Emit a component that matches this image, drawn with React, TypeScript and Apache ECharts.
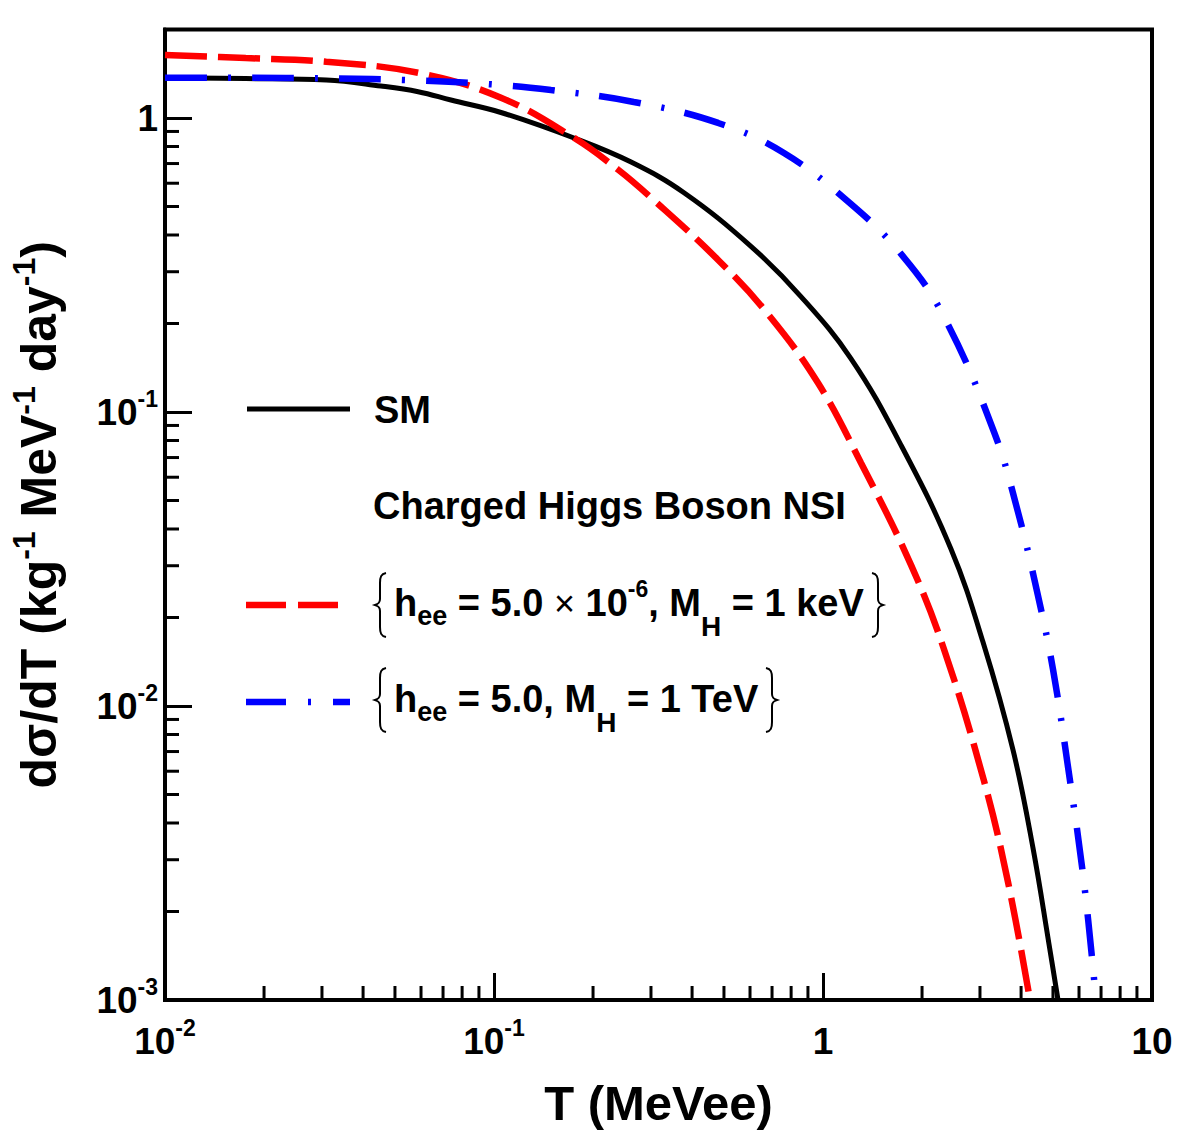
import React, { useEffect, useRef } from "react";
import * as echarts from "echarts";

const FONT = '"Liberation Sans", Arial, Helvetica, sans-serif';

// Recoil energy T (MeVee) and differential rate dσ/dT (kg^-1 MeV^-1 day^-1), Standard Model
const smT = [0.01, 0.0176, 0.0309, 0.0453, 0.0588, 0.074, 0.105, 0.175, 0.261, 0.378, 0.604, 0.857, 1.216, 1.726, 2.449, 3.064, 3.78, 4.348, 4.863, 5.18];
const smRate = [1.371, 1.362, 1.347, 1.285, 1.229, 1.151, 1.044, 0.855, 0.708, 0.557, 0.366, 0.247, 0.152, 0.0772, 0.0342, 0.0165, 0.00709, 0.00329, 0.00155, 0.001];

// Charged Higgs NSI: h_ee = 5.0e-6, M_H = 1 keV
const keVT = [0.01, 0.0176, 0.0309, 0.0588, 0.105, 0.175, 0.238, 0.3, 0.48, 0.681, 0.966, 1.305, 1.851, 2.332, 3.086, 3.65, 4.258];
const keVRate = [1.638, 1.6, 1.553, 1.425, 1.172, 0.856, 0.668, 0.536, 0.329, 0.215, 0.1255, 0.0671, 0.0302, 0.0156, 0.00556, 0.00252, 0.001];

// Charged Higgs NSI: h_ee = 5.0, M_H = 1 TeV
const teVT = [0.01, 0.0176, 0.0309, 0.0588, 0.105, 0.149, 0.266, 0.48, 0.761, 1.216, 1.726, 2.316, 3.31, 3.914, 4.503, 5.003, 5.556, 6.215, 6.758];
const teVRate = [1.371, 1.37, 1.365, 1.341, 1.295, 1.245, 1.134, 0.962, 0.76, 0.51, 0.345, 0.214, 0.0855, 0.0457, 0.0237, 0.0133, 0.0062, 0.0025, 0.001];

const xTickValues = [0.01, 0.1, 1, 10];
const xTickLabels = ["10^-2", "10^-1", "1", "10"];
const yTickValues = [0.001, 0.01, 0.1, 1];
const yTickLabels = ["10^-3", "10^-2", "10^-1", "1"];
const xMinorTicks = [0.02, 0.03, 0.04, 0.05, 0.06, 0.07, 0.08, 0.09, 0.2, 0.3, 0.4, 0.5, 0.6, 0.7, 0.8, 0.9, 2, 3, 4, 5, 6, 7, 8, 9];
const yMinorTicks = [0.002, 0.003, 0.004, 0.005, 0.006, 0.007, 0.008, 0.009, 0.02, 0.03, 0.04, 0.05, 0.06, 0.07, 0.08, 0.09, 0.2, 0.3, 0.4, 0.5, 0.6, 0.7, 0.8, 0.9];

const X_MIN = 0.01;
const X_MAX = 10;
const Y_MIN = 0.001;
const Y_MAX = 2;

const NB = "\u00a0";

// "10^-2" -> rich text with a superscript exponent
function powerLabel(s: string): string {
  const [base, exp] = s.split("^");
  return exp ? `{m|${base}}{s|${exp}}` : `{m|${base}}`;
}

function tickFormatter(values: number[], labels: string[]) {
  return (v: number) => {
    const i = values.findIndex((t) => Math.abs(Math.log10(v) - Math.log10(t)) < 1e-6);
    return i < 0 ? "" : powerLabel(labels[i]);
  };
}

const pairs = (t: number[], v: number[]) => t.map((x, i) => [x, v[i]]);

const tickRich = {
  m: { fontFamily: FONT, fontWeight: "bold", fontSize: 37, color: "#000", lineHeight: 50, verticalAlign: "middle" },
  s: { fontFamily: FONT, fontWeight: "bold", fontSize: 23, color: "#000", lineHeight: 24, padding: [0, 0, 26, 0], verticalAlign: "middle" },
};

const titleRich = {
  m: { fontFamily: FONT, fontWeight: "bold", fontSize: 50, color: "#000", verticalAlign: "middle" },
  s: { fontFamily: FONT, fontWeight: "bold", fontSize: 32, color: "#000", padding: [0, 0, 30, 0], verticalAlign: "middle" },
};

// zrender-level rich styles for the legend texts
const legendRich = {
  m: { fontFamily: FONT, fontWeight: "bold", fontSize: 38, fill: "#000", verticalAlign: "middle" },
  x: { fontFamily: FONT, fontWeight: "normal", fontSize: 36, fill: "#000", verticalAlign: "middle" },
  sb: { fontFamily: FONT, fontWeight: "bold", fontSize: 27, fill: "#000", padding: [25, 0, 0, 0], verticalAlign: "middle" },
  sh: { fontFamily: FONT, fontWeight: "bold", fontSize: 28, fill: "#000", padding: [46, 0, 0, 0], verticalAlign: "middle" },
  sp: { fontFamily: FONT, fontWeight: "bold", fontSize: 23, fill: "#000", padding: [0, 0, 29, 0], verticalAlign: "middle" },
};

const BRACE_L = "M 11 0 C 6 1 5 4 5 10 L 5 26 C 5 30 3 31 0 32 C 3 33 5 34 5 38 L 5 54 C 5 60 6 63 11 64";
const BRACE_R = "M 0 0 C 5 1 6 4 6 10 L 6 26 C 6 30 8 31 11 32 C 8 33 6 34 6 38 L 6 54 C 6 60 5 63 0 64";
echarts.graphic.registerShape("braceLeft", echarts.graphic.extendPath(BRACE_L, {}));
echarts.graphic.registerShape("braceRight", echarts.graphic.extendPath(BRACE_R, {}));

function minorTickSeries(values: number[], vertical: boolean) {
  return {
    type: "custom",
    silent: true,
    clip: false,
    z: 10,
    data: values.map((v) => (vertical ? [v, Y_MIN] : [X_MIN, v])),
    renderItem: (_params: any, api: any) => {
      const p = api.coord([api.value(0), api.value(1)]);
      return {
        type: "line",
        shape: vertical
          ? { x1: p[0], y1: p[1], x2: p[0], y2: p[1] - 14 }
          : { x1: p[0], y1: p[1], x2: p[0] + 14, y2: p[1] },
        style: { stroke: "#000", lineWidth: 3 },
      };
    },
  };
}

function curve(name: string, t: number[], v: number[], lineStyle: any, z: number) {
  return {
    name,
    type: "line",
    data: pairs(t, v),
    showSymbol: false,
    smooth: 0.4,
    lineStyle,
    z,
  };
}

function buildOption() {
  const braceStyle = { stroke: "#000", lineWidth: 2, fill: null };
  return {
    animation: false,
    backgroundColor: "#fff",
    grid: {
      left: 164,
      right: 30,
      top: 29.5,
      bottom: 138,
      show: true,
      borderColor: "#000",
      borderWidth: 4,
      backgroundColor: "transparent",
    },
    xAxis: {
      type: "log",
      logBase: 10,
      min: X_MIN,
      max: X_MAX,
      axisLine: { show: true, lineStyle: { color: "#000", width: 4 } },
      axisTick: { show: true, inside: true, length: 27, lineStyle: { color: "#000", width: 3 } },
      minorTick: { show: false },
      splitLine: { show: false },
      axisLabel: {
        formatter: tickFormatter(xTickValues, xTickLabels),
        margin: 16,
        showMinLabel: true,
        showMaxLabel: true,
        rich: tickRich,
      },
      name: `T${NB}(MeVee)`,
      nameLocation: "middle",
      nameGap: 103,
      nameTextStyle: {
        fontFamily: FONT,
        fontWeight: "bold",
        fontSize: 49,
        color: "#000",
        verticalAlign: "middle",
        align: "center",
      },
    },
    yAxis: {
      type: "log",
      logBase: 10,
      min: Y_MIN,
      max: Y_MAX,
      axisLine: { show: true, lineStyle: { color: "#000", width: 4 } },
      axisTick: { show: true, inside: true, length: 27, lineStyle: { color: "#000", width: 3 } },
      minorTick: { show: false },
      splitLine: { show: false },
      axisLabel: {
        formatter: tickFormatter(yTickValues, yTickLabels),
        margin: 7,
        showMinLabel: true,
        showMaxLabel: true,
        rich: tickRich,
      },
      name: `{m|dσ/dT${NB}(kg}{s|-1}{m|${NB}MeV}{s|-1}{m|${NB}day}{s|-1}{m|)}`,
      nameLocation: "middle",
      nameRotate: 90,
      nameGap: 126,
      nameTextStyle: {
        fontFamily: FONT,
        fontWeight: "bold",
        fontSize: 50,
        color: "#000",
        verticalAlign: "middle",
        align: "center",
        rich: titleRich,
      },
    },
    series: [
      curve("SM", smT, smRate, { color: "#000", width: 5, type: "solid" }, 3),
      curve("h_ee = 5.0e-6, M_H = 1 keV", keVT, keVRate, { color: "#ff0000", width: 6.5, type: [42, 11] }, 4),
      curve("h_ee = 5.0, M_H = 1 TeV", teVT, teVRate, { color: "#0000ff", width: 6.5, type: [42, 21, 3, 21] }, 5),
      minorTickSeries(xMinorTicks, true),
      minorTickSeries(yMinorTicks, false),
    ],
    graphic: [
      // SM entry
      { type: "line", shape: { x1: 247, y1: 409, x2: 350, y2: 409 }, style: { stroke: "#000", lineWidth: 5 } },
      {
        type: "text",
        x: 374,
        y: 410,
        style: { text: "SM", font: `bold 38px ${FONT}`, fill: "#000", align: "left", verticalAlign: "middle" },
      },
      // heading
      {
        type: "text",
        x: 373,
        y: 506,
        style: {
          text: "Charged Higgs Boson NSI",
          font: `bold 38px ${FONT}`,
          fill: "#000",
          align: "left",
          verticalAlign: "middle",
        },
      },
      // 1 keV entry
      {
        type: "line",
        shape: { x1: 246, y1: 605, x2: 350, y2: 605 },
        style: { stroke: "#ff0000", lineWidth: 6.5, lineDash: [40, 12] },
      },
      { type: "braceLeft", x: 375, y: 573, style: braceStyle },
      {
        type: "text",
        x: 394,
        y: 603,
        style: {
          text: `{m|h}{sb|ee}{m|${NB}=${NB}5.0${NB}}{x|×}{m|${NB}10}{sp|-6}{m|,${NB}M}{sh|H}{m|${NB}=${NB}1${NB}keV}`,
          rich: legendRich,
          font: `bold 38px ${FONT}`,
          fill: "#000",
          align: "left",
          verticalAlign: "middle",
        },
      },
      { type: "braceRight", x: 872, y: 573, style: braceStyle },
      // 1 TeV entry
      {
        type: "line",
        shape: { x1: 246, y1: 702, x2: 350, y2: 702 },
        style: { stroke: "#0000ff", lineWidth: 6.5, lineDash: [40, 22, 3, 22] },
      },
      { type: "braceLeft", x: 375, y: 668, style: braceStyle },
      {
        type: "text",
        x: 394,
        y: 699,
        style: {
          text: `{m|h}{sb|ee}{m|${NB}=${NB}5.0,${NB}M}{sh|H}{m|${NB}=${NB}1${NB}TeV}`,
          rich: legendRich,
          font: `bold 38px ${FONT}`,
          fill: "#000",
          align: "left",
          verticalAlign: "middle",
        },
      },
      { type: "braceRight", x: 766, y: 668, style: braceStyle },
    ],
  };
}

export default function App() {
  const ref = useRef<HTMLDivElement>(null);
  useEffect(() => {
    if (!ref.current) return;
    const chart = echarts.init(ref.current, null, { renderer: "svg" });
    chart.setOption(buildOption() as any);
    return () => chart.dispose();
  }, []);
  return (
    <div
      ref={ref}
      style={{ position: "fixed", left: 0, top: 0, width: 1182, height: 1138, background: "#fff" }}
    />
  );
}
